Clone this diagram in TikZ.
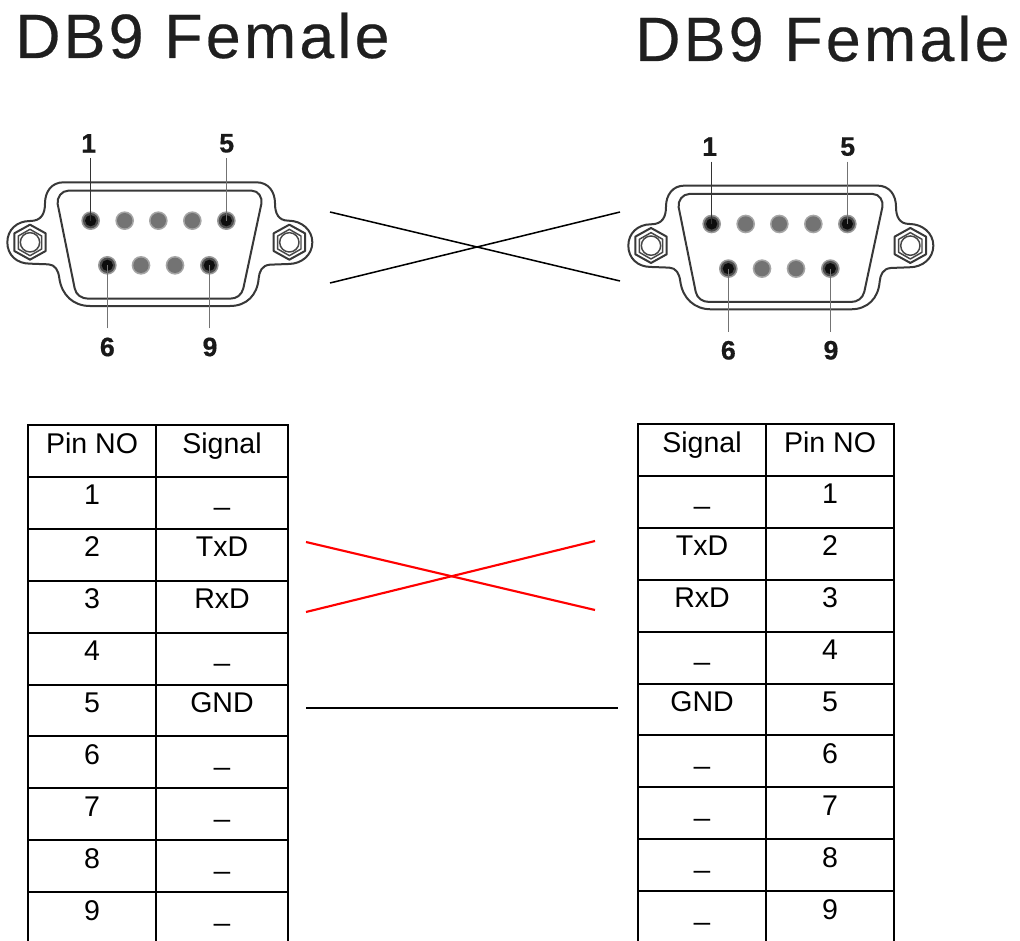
\documentclass[tikz,border=0pt]{standalone}
\usepackage{fontspec}
\setmainfont{Liberation Sans}
\newfontfamily\titlefont[LetterSpace=5.2,FakeBold=0.35]{Liberation Sans}
\newfontfamily\labelfont[FakeBold=0.5]{Liberation Sans Bold}
\tikzset{
  x=.75pt,y=-.75pt,
  title/.style={anchor=base west,inner sep=0pt,text=black!88,font=\titlefont\fontsize{47}{47}\selectfont},
  celltext/.style={anchor=base,inner sep=0pt,text=black,font=\fontsize{21.4}{24}\selectfont},
  pinlabel/.style={inner sep=0pt,text=black!90,font=\labelfont\fontsize{20}{20}\selectfont},
  grid/.style={line width=1.5pt,black},
  shell/.style={line width=1.5pt,black!78,line join=round},
  thin shell/.style={line width=1.1pt,black!72,line join=round},
  lead/.style={line width=1pt,black!55},
  crossblack/.style={line width=1.15pt,black},
  crossred/.style={line width=1.6pt,red},
  gndline/.style={line width=1.9pt,black}
}
% #1 prefix, #2 shift x, #3 shift y
\newcommand{\connector}[3]{%
\begin{scope}[shift={(#2,#3)},x=.25pt,y=-.25pt]
  % outer shell
  \draw[shell] (190,187) -- (770,187)
    .. controls (805,187) and (825,215) .. (825,250)
    .. controls (825,280) and (835,302) .. (865,302)
    .. controls (905,302) and (937,330) .. (937,367)
    .. controls (937,405) and (905,432) .. (865,432)
    -- (810,434)
    .. controls (785,436) and (778,455) .. (776,475)
    .. controls (772,525) and (740,558) .. (690,558)
    -- (270,558)
    .. controls (220,558) and (185,525) .. (178,475)
    .. controls (175,450) and (165,434) .. (145,433)
    -- (90,431)
    .. controls (50,431) and (22,405) .. (22,367)
    .. controls (22,330) and (50,303) .. (90,303)
    .. controls (125,303) and (135,280) .. (135,250)
    .. controls (135,215) and (155,187) .. (190,187) -- cycle;
  % inner shell
  \draw[shell] (205,212) -- (755,212)
    .. controls (775,212) and (788,232) .. (784,252)
    -- (730,505)
    .. controls (725,525) and (710,536) .. (690,536)
    -- (265,536)
    .. controls (245,536) and (228,525) .. (224,505)
    -- (173,252)
    .. controls (170,232) and (185,212) .. (205,212) -- cycle;
  % ears
  \foreach \ex in {90,868}{
    \draw[thin shell] (\ex,367) circle[radius=29];
    \draw[shell] (\ex,314) -- ++(47,26) -- ++(0,53) -- ++(-47,26) -- ++(-47,-26) -- ++(0,-53) -- cycle;
    \draw[thin shell] (\ex,328) -- ++(35,20) -- ++(0,39) -- ++(-35,20) -- ++(-35,-20) -- ++(0,-39) -- cycle;
  }
  % grey pins
  \foreach \px/\py in {374/302,475/302,577/302,423/436,525/436}{
    \fill[black!35] (\px,\py) circle[radius=28];
    \fill[black!55] (\px,\py) circle[radius=23];
  }
  % wired pins
  \foreach \px/\py/\nm in {272/302/a,679/302/b,322/436/c,628/436/d}{
    \fill[black!40] (\px,\py) circle[radius=28];
    \fill[black!70] (\px,\py) circle[radius=23];
    \fill[black!95] (\px,\py) circle[radius=17];
    \coordinate (#1pin\nm) at (\px,\py);
  }
  \node[pinlabel] (#1one) at (266,70) {1};
  \node[pinlabel] (#1five) at (680,70) {5};
  \node[pinlabel] (#1six) at (322,681) {6};
  \node[pinlabel] (#1nine) at (630,681) {9};
  \coordinate (#1t1) at (272,115);
  \coordinate (#1t5) at (679,115);
  \coordinate (#1t6) at (322,625);
  \coordinate (#1t9) at (628,625);
  \draw[lead,black!80] (#1t1) -- (#1pina);
  \draw[lead] (#1t5) -- (#1pinb);
  \draw[lead] (#1t6) -- (#1pinc);
  \draw[lead] (#1t9) -- (#1pind);
\end{scope}}
% #1 prefix, #2 x0, #3 xm, #4 x1, #5 y0
\newcommand{\tablegrid}[5]{%
  \foreach \i in {0,...,9}{
    \draw[grid] ({#2-1},{#5+51.9*\i}) -- ({#4+1},{#5+51.9*\i});
  }
  \foreach \vx in {#2,#3,#4}{
    \draw[grid] (\vx,#5) -- (\vx,941);
  }}
\begin{document}
\begin{tikzpicture}
\useasboundingbox (0,0) rectangle (1020,941);
\fill[white] (0,0) rectangle (1020,941);

\node[title] (titleL) at (15,58) {DB9 Female};
\node[title] (titleR) at (635,61) {DB9 Female};

\connector{L}{0}{120}
\connector{R}{621}{123.3}

\coordinate (ca) at (330,212);
\coordinate (cb) at (620,281);
\coordinate (cc) at (330,283);
\coordinate (cd) at (620,212);
\draw[crossblack] (ca) -- (cb);
\draw[crossblack] (cc) -- (cd);

% left table
\tablegrid{L}{28}{156}{288}{425}
\node[celltext] (Lh1) at (92,453) {Pin NO};
\node[celltext] (Lh2) at (222,453) {Signal};
\foreach \r/\s in {1/\_,2/TxD,3/RxD,4/\_,5/GND,6/\_,7/\_,8/\_,9/\_}{
  \node[celltext] (Ln\r) at (92,{453+51.9*\r}) {\r};
  \node[celltext] (Ls\r) at (222,{453+51.9*\r}) {\s};
}
% right table
\tablegrid{R}{638}{766}{894}{424}
\node[celltext] (Rh1) at (702,452) {Signal};
\node[celltext] (Rh2) at (830,452) {Pin NO};
\foreach \r/\s in {1/\_,2/TxD,3/RxD,4/\_,5/GND,6/\_,7/\_,8/\_,9/\_}{
  \node[celltext] (Rs\r) at (702,{452+51.9*\r}) {\s};
  \node[celltext] (Rn\r) at (830,{452+51.9*\r}) {\r};
}

\coordinate (ra) at (306,542);
\coordinate (rb) at (595,610);
\coordinate (rc) at (306,612);
\coordinate (rd) at (595,541);
\draw[crossred] (ra) -- (rb);
\draw[crossred] (rc) -- (rd);
\coordinate (ga) at (306,708);
\coordinate (gb) at (618,708);
\draw[gndline] (ga) -- (gb);
\end{tikzpicture}
\end{document}
